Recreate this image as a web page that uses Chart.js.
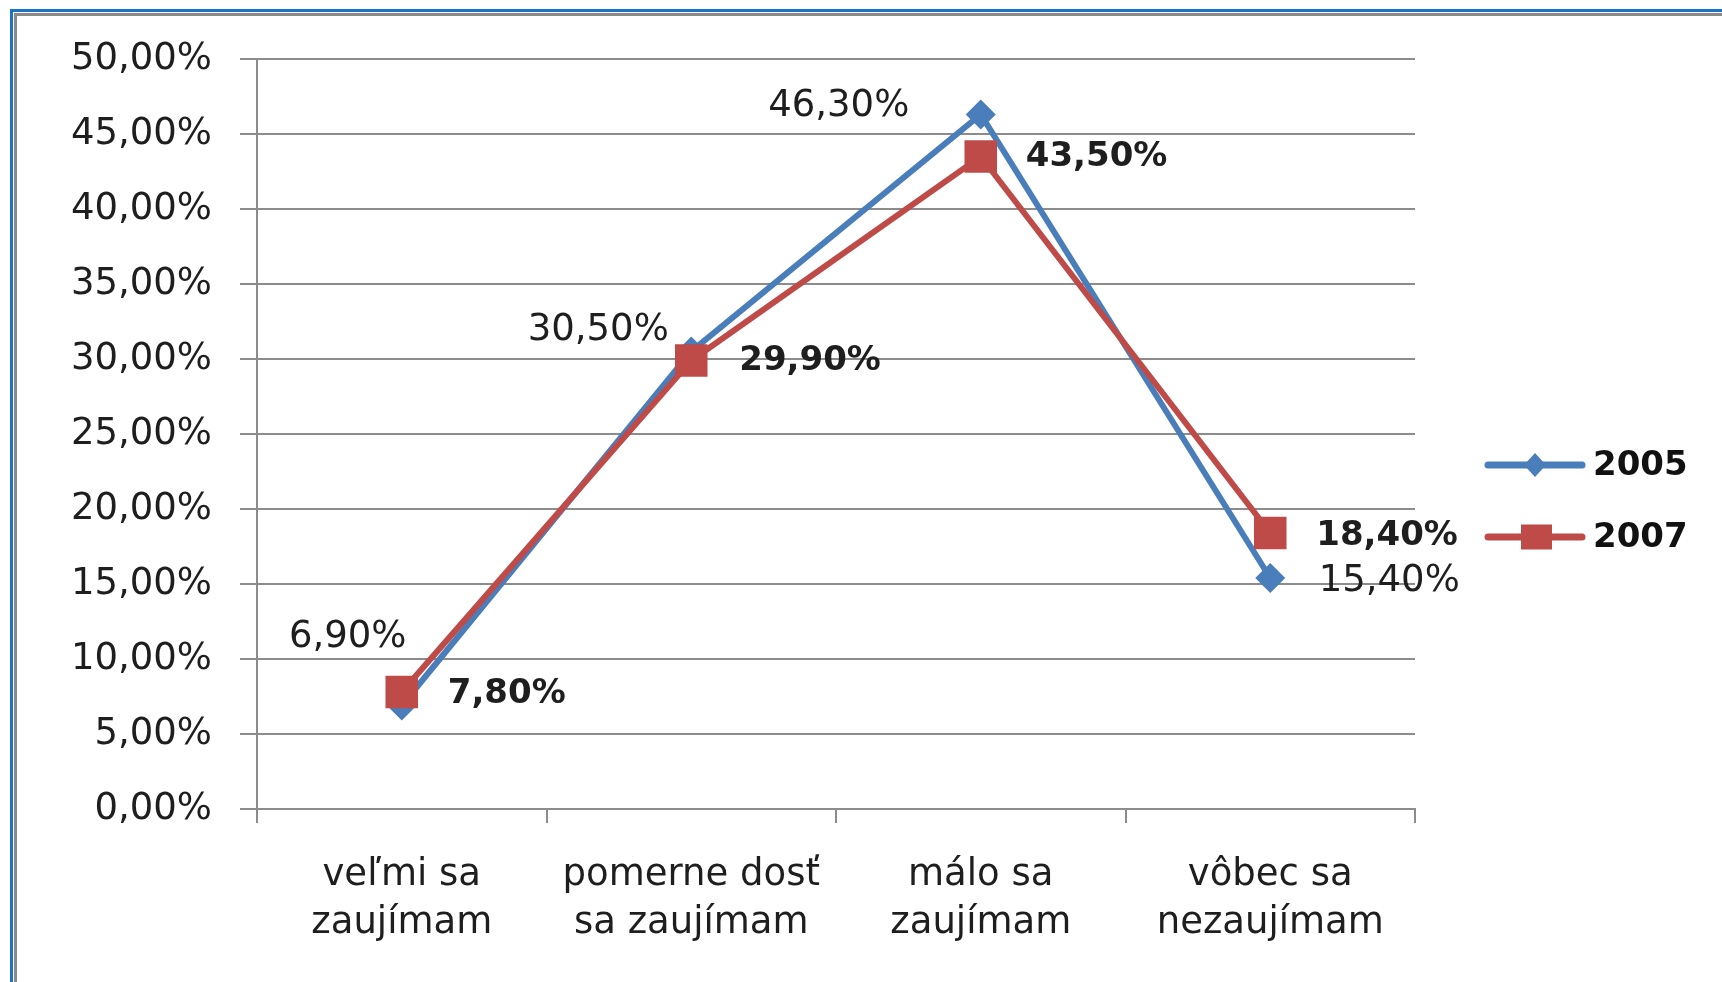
<!DOCTYPE html>
<html>
<head>
<meta charset="utf-8">
<script src="https://cdn.jsdelivr.net/npm/chart.js@4/dist/chart.umd.min.js"></script>
<style>
  html, body { margin: 0; padding: 0; background: #ffffff; width: 1722px; height: 982px; overflow: hidden; }
  #frameOuter { position: absolute; left: 10px; top: 9px; width: 1800px; height: 1100px;
    border-left: 3px solid #1a73c6; border-top: 3px solid #1a73c6; }
  #frameInner { position: absolute; left: 1px; top: 1px; width: 1790px; height: 1090px;
    border-left: 3px solid #8a8a8a; border-top: 3px solid #8a8a8a; }
  #c { position: absolute; left: 0; top: 0; }
</style>
</head>
<body>
<div id="frameOuter"><div id="frameInner"></div></div>
<canvas id="c" width="1722" height="982"></canvas>
<script>
// ---- data ----
const categories = [["veľmi sa", "zaujímam"], ["pomerne dosť", "sa zaujímam"], ["málo sa", "zaujímam"], ["vôbec sa", "nezaujímam"]];
const seriesNames = ["2005", "2007"];
const values2005 = [6.9, 30.5, 46.3, 15.4];
const values2007 = [7.8, 29.9, 43.5, 18.4];
const yTicks = [0, 5, 10, 15, 20, 25, 30, 35, 40, 45, 50];

// ---- label placement (style, not data) ----
const labelOffsets2005 = [[-54, -68], [-93, -21], [-142, -8], [119, 3]];
const labelOffsets2007 = [[46, 2], [48, 1], [45, 1], [46, 3]];

const BLUE = '#4a7ebb';
const RED = '#be4b48';
const GRID = '#8c8c8c';
const TXT = '#1e1e1e';

const fmt = v => v.toFixed(2).replace('.', ',') + '%';

const labelPlugin = {
  id: 'pointLabels',
  afterDatasetsDraw(chart) {
    const ctx = chart.ctx;
    ctx.save();
    const m0 = chart.getDatasetMeta(0);
    const m1 = chart.getDatasetMeta(1);
    ctx.fillStyle = TXT;
    ctx.textBaseline = 'middle';
    ctx.font = '37px "DejaVu Sans"';
    ctx.textAlign = 'center';
    m0.data.forEach((pt, i) => {
      const o = labelOffsets2005[i];
      ctx.fillText(fmt(chart.data.datasets[0].data[i]), pt.x + o[0], pt.y + o[1]);
    });
    ctx.font = 'bold 34px "DejaVu Sans"';
    ctx.textAlign = 'left';
    m1.data.forEach((pt, i) => {
      const o = labelOffsets2007[i];
      ctx.fillText(fmt(chart.data.datasets[1].data[i]), pt.x + o[0], pt.y + o[1]);
    });
    ctx.restore();
  }
};

const legendPlugin = {
  id: 'customLegend',
  afterDraw(chart) {
    const ctx = chart.ctx;
    ctx.save();
    const rows = [465, 537];
    chart.data.datasets.forEach((ds, i) => {
      const y = rows[i];
      ctx.strokeStyle = ds.borderColor;
      ctx.lineWidth = 7;
      ctx.lineCap = 'round';
      ctx.beginPath();
      ctx.moveTo(1488, y);
      ctx.lineTo(1582, y);
      ctx.stroke();
      ctx.fillStyle = ds.backgroundColor;
      if (i === 0) {
        ctx.beginPath();
        ctx.moveTo(1535, y - 12);
        ctx.lineTo(1546, y);
        ctx.lineTo(1535, y + 12);
        ctx.lineTo(1524, y);
        ctx.closePath();
        ctx.fill();
      } else {
        ctx.fillRect(1521, y - 12.5, 31, 25);
      }
      ctx.fillStyle = '#111';
      ctx.font = 'bold 34px "DejaVu Sans"';
      ctx.textAlign = 'left';
      ctx.textBaseline = 'middle';
      ctx.fillText(ds.label, 1593, y + 1);
    });
    ctx.restore();
  }
};

new Chart(document.getElementById('c'), {
  type: 'line',
  data: {
    labels: categories,
    datasets: [
      { label: seriesNames[0], data: values2005, borderColor: BLUE, backgroundColor: BLUE,
        borderWidth: 6, pointStyle: 'rectRot', pointRadius: 15, pointBorderWidth: 0,
        pointBackgroundColor: BLUE, tension: 0, order: 2 },
      { label: seriesNames[1], data: values2007, borderColor: RED, backgroundColor: RED,
        borderWidth: 6, pointStyle: 'rect', pointRadius: 23, pointBorderWidth: 0,
        pointBackgroundColor: RED, tension: 0, order: 1 }
    ]
  },
  options: {
    responsive: false,
    animation: false,
    devicePixelRatio: 1,
    layout: { padding: { left: 0, right: 307, top: 59, bottom: 0 } },
    plugins: { legend: { display: false }, tooltip: { enabled: false } },
    scales: {
      x: {
        type: 'category',
        offset: true,
        grid: { offset: true, drawOnChartArea: false, drawTicks: true, tickLength: 14, color: GRID, lineWidth: 2 },
        border: { display: true, color: GRID, width: 2 },
        ticks: { color: TXT, font: { family: 'DejaVu Sans', size: 37, lineHeight: 1.3 }, padding: 28, maxRotation: 0, autoSkip: false },
        afterFit(s) { s.height = 173; }
      },
      y: {
        min: 0, max: 50,
        afterBuildTicks(s) { s.ticks = yTicks.map(v => ({ value: v })); },
        grid: { color: GRID, lineWidth: 2, tickLength: 17, drawTicks: true },
        border: { display: true, color: GRID, width: 2 },
        ticks: { color: TXT, font: { family: 'DejaVu Sans', size: 37 }, padding: 28, callback: v => fmt(v) },
        afterFit(s) { s.width = 257; }
      }
    }
  },
  plugins: [labelPlugin, legendPlugin]
});
</script>
</body>
</html>
